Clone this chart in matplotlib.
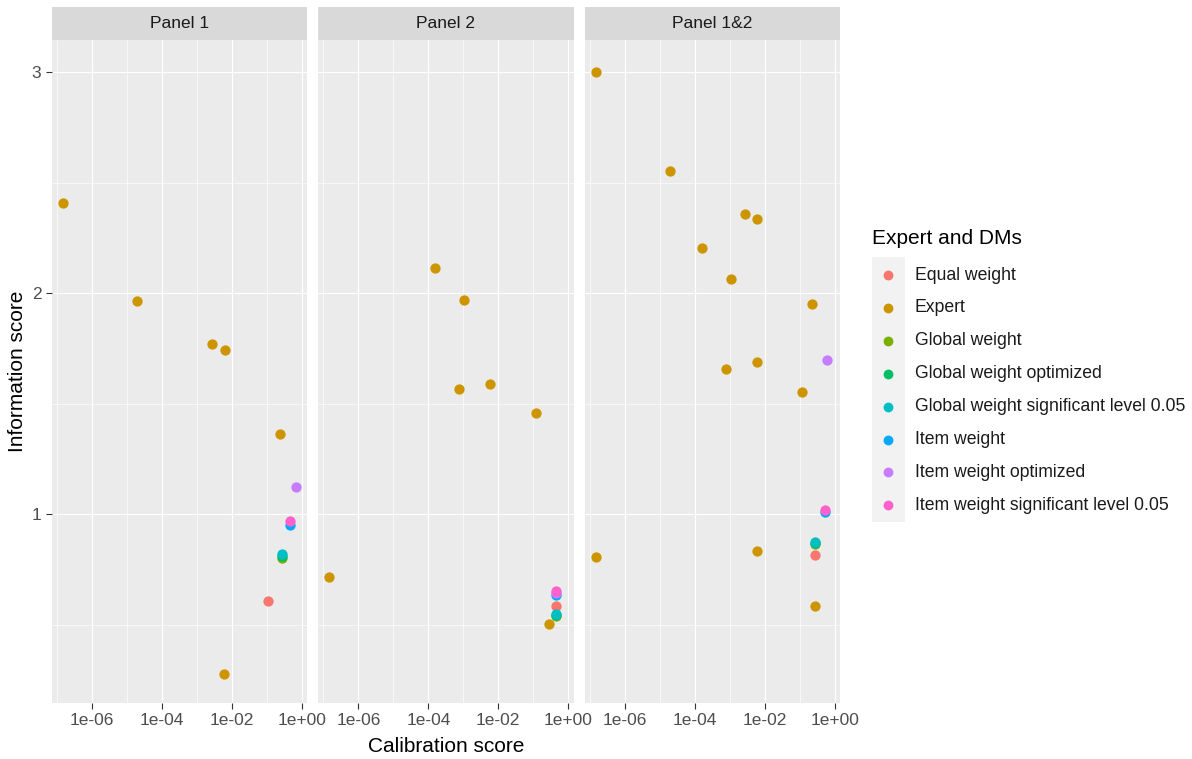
import numpy as np
import matplotlib.pyplot as plt
from matplotlib.patches import Rectangle
from matplotlib.ticker import NullFormatter

plt.rcParams['font.family'] = ['Liberation Sans', 'DejaVu Sans']

# Legend groups and their hue colours
groups = ['Equal weight', 'Expert', 'Global weight', 'Global weight optimized',
          'Global weight significant level 0.05', 'Item weight',
          'Item weight optimized', 'Item weight significant level 0.05']
colors = ['#F8766D', '#CD9600', '#7CAE00', '#00BE67',
          '#00BFC4', '#00A9FF', '#C77CFF', '#FF61CC']
panel_names = ['Panel 1', 'Panel 2', 'Panel 1&2']

# Expert scores per panel
p1_expert_cal = [1.5e-07, 2.0e-05, 2.7e-03, 6.2e-03, 0.245, 6.0e-03]
p1_expert_info = [2.41, 1.965, 1.771, 1.744, 1.364, 0.278]

p2_expert_cal = [1.5e-04, 1.07e-03, 7.4e-04, 5.9e-03, 0.123, 1.45e-07, 0.28]
p2_expert_info = [2.116, 1.971, 1.566, 1.590, 1.460, 0.716, 0.502]

p3_expert_cal = [1.5e-07, 2.0e-05, 2.7e-03, 5.8e-03, 1.6e-04, 1.05e-03, 0.22,
                 5.8e-03, 7.8e-04, 0.117, 1.5e-07, 5.9e-03, 0.27]
p3_expert_info = [3.0, 2.553, 2.359, 2.338, 2.203, 2.067, 1.950,
                  1.690, 1.659, 1.555, 0.804, 0.831, 0.582]

# Decision makers (groups order without Expert)
dm_groups = [g for g in groups if g != 'Expert']
p1_dm_cal = [0.105, 0.27, 0.27, 0.27, 0.46, 0.69, 0.46]
p1_dm_info = [0.607, 0.802, 0.81, 0.821, 0.951, 1.123, 0.969]

p2_dm_cal = [0.46, 0.46, 0.46, 0.46, 0.46, 0.46, 0.46]
p2_dm_info = [0.584, 0.538, 0.545, 0.550, 0.635, 0.645, 0.650]

p3_dm_cal = [0.27, 0.27, 0.27, 0.27, 0.51, 0.62, 0.51]
p3_dm_info = [0.817, 0.863, 0.87, 0.876, 1.009, 1.696, 1.021]

x_ticks = [1e-06, 1e-04, 1e-02, 1e+00]
x_tick_labels = ['1e-06', '1e-04', '1e-02', '1e+00']
x_minor = [1e-07, 1e-05, 1e-03, 1e-01]
y_ticks = [1, 2, 3]
y_minor = [0.5, 1.5, 2.5]

panels = [
    (p1_expert_cal, p1_expert_info, p1_dm_cal, p1_dm_info),
    (p2_expert_cal, p2_expert_info, p2_dm_cal, p2_dm_info),
    (p3_expert_cal, p3_expert_info, p3_dm_cal, p3_dm_info),
]

W, H = 1192, 759
fig = plt.figure(figsize=(W / 100, H / 100), dpi=100)


def px_axes(left, top, width, height):
    return fig.add_axes([left / W, 1 - (top + height) / H, width / W, height / H])


color_of = dict(zip(groups, colors))
panel_w = 255.3
panel_top, panel_bot = 40, 703
strip_top = 7.3

for i, (ecal, einfo, dcal, dinfo) in enumerate(panels):
    left = 51.7 + i * 266.5
    ax = px_axes(left, panel_top, panel_w, panel_bot - panel_top)
    ax.set_facecolor('#EBEBEB')
    ax.set_xscale('log')
    ax.set_xlim(10 ** -7.15, 10 ** 0.15)
    ax.set_ylim(0.145, 3.147)
    ax.set_xticks(x_ticks)
    ax.set_xticklabels(x_tick_labels)
    ax.set_xticks(x_minor, minor=True)
    ax.xaxis.set_minor_formatter(NullFormatter())
    ax.set_yticks(y_ticks)
    ax.set_yticks(y_minor, minor=True)
    ax.yaxis.set_minor_formatter(NullFormatter())
    ax.grid(which='major', color='white', linewidth=0.85)
    ax.grid(which='minor', color='white', linewidth=0.45)
    ax.set_axisbelow(True)
    for s in ax.spines.values():
        s.set_visible(False)
    ax.tick_params(which='major', length=4.5, width=0.8, color='#333333',
                   labelcolor='#4D4D4D', labelsize=12.5, pad=3)
    ax.tick_params(which='minor', length=0)
    if i > 0:
        ax.tick_params(axis='y', which='major', length=0, labelleft=False)

    # experts first, then decision makers on top in group order
    ax.scatter(ecal, einfo, s=55, color=color_of['Expert'], linewidths=0, zorder=3)
    for g, c, v in zip(dm_groups, dcal, dinfo):
        ax.scatter([c], [v], s=55, color=color_of[g], linewidths=0, zorder=3)

    strip = px_axes(left, strip_top, panel_w, panel_top - strip_top)
    strip.set_facecolor('#D9D9D9')
    strip.set_xticks([])
    strip.set_yticks([])
    for s in strip.spines.values():
        s.set_visible(False)
    strip.text(0.5, 0.5, panel_names[i], ha='center', va='center',
               fontsize=12.5, color='#1A1A1A', transform=strip.transAxes)

# overlay in pixel units for titles and legend
lax = fig.add_axes([0, 0, 1, 1])
lax.set_xlim(0, W)
lax.set_ylim(H, 0)
lax.axis('off')

lax.text(446, 746, 'Calibration score', ha='center', va='center', fontsize=15)
lax.text(18, 371.5, 'Information score', ha='center', va='center',
         rotation=90, fontsize=15)

lax.text(872, 238, 'Expert and DMs', ha='left', va='center', fontsize=15)
lax.add_patch(Rectangle((871.7, 256.7), 33.3, 265, facecolor='#F2F2F2',
                        edgecolor='none'))
for k, (g, c) in enumerate(zip(groups, colors)):
    yk = 275 + k * 32.9
    lax.scatter([888.3], [yk], s=50, color=c, linewidths=0)
    lax.text(915, yk, g, ha='left', va='center', fontsize=12.7, color='#1A1A1A')

fig.savefig('out.png', dpi=100)
